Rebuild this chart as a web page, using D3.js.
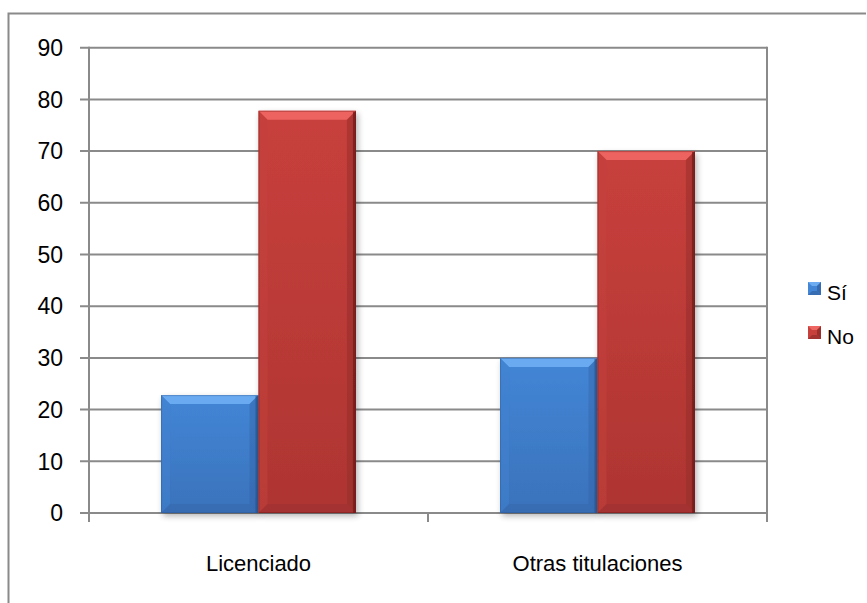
<!DOCTYPE html>
<html>
<head>
<meta charset="utf-8">
<script src="https://cdn.jsdelivr.net/npm/d3@7"></script>
<style>
  html, body { margin: 0; padding: 0; background: #fff; }
  svg { display: block; }
  text { font-family: "Liberation Sans", Arial, sans-serif; fill: #000; }
</style>
</head>
<body>
<svg id="chart" width="867" height="603"></svg>
<script>
// Chart data
const categories = ["Licenciado", "Otras titulaciones"];
const seriesNames = ["Sí", "No"];
const siValues = [22.8, 30];
const noValues = [77.8, 70];
const yTicks = [0, 10, 20, 30, 40, 50, 60, 70, 80, 90];

const seriesValues = [siValues, noValues];

// Palette per series: body gradient, top bevel, side bevels, bottom bevel, edge
const palettes = [
  { body0: "#4386d6", body1: "#3a72bb", top: "#72b0f4", left: "#4281d0", right: "#3364a8", bottom: "#3466aa", edge: "#2a558f" },
  { body0: "#c8403c", body1: "#ae3532", top: "#f26a66", left: "#c4413d", right: "#8e2a27", bottom: "#9a302d", edge: "#6e1a18" }
];

const svg = d3.select("#chart");
const plot = { left: 89, right: 767, top: 47.7, bottom: 513 };

const x0 = d3.scaleBand()
  .domain(categories)
  .range([plot.left, plot.right])
  .paddingInner(0.425)
  .paddingOuter(0.2125);

const x1 = d3.scaleBand()
  .domain(seriesNames)
  .range([0, x0.bandwidth()]);

const y = d3.scaleLinear().domain([0, 90]).range([plot.bottom, plot.top]);

// Outer chart frame (top and left edges visible)
svg.append("path")
  .attr("d", `M8.5,603 L8.5,13.5 L866,13.5`)
  .attr("fill", "none")
  .attr("stroke", "#8a8a8a")
  .attr("stroke-width", 2);

const defs = svg.append("defs");
const shadow = defs.append("filter").attr("id", "shadow")
  .attr("x", "-20%").attr("y", "-10%").attr("width", "140%").attr("height", "130%");
shadow.append("feGaussianBlur").attr("in", "SourceAlpha").attr("stdDeviation", 3).attr("result", "b");
shadow.append("feOffset").attr("in", "b").attr("dx", 2).attr("dy", 3).attr("result", "o");
shadow.append("feComponentTransfer").attr("in", "o").attr("result", "s")
  .append("feFuncA").attr("type", "linear").attr("slope", 0.3);
const merge = shadow.append("feMerge");
merge.append("feMergeNode").attr("in", "s");
merge.append("feMergeNode").attr("in", "SourceGraphic");

palettes.forEach((p, i) => {
  const g = defs.append("linearGradient").attr("id", "body" + i)
    .attr("x1", 0).attr("y1", 0).attr("x2", 0).attr("y2", 1);
  g.append("stop").attr("offset", 0).attr("stop-color", p.body0);
  g.append("stop").attr("offset", 1).attr("stop-color", p.body1);
});

// Gridlines
svg.append("g")
  .selectAll("line")
  .data(yTicks)
  .join("line")
  .attr("x1", plot.left - 9)
  .attr("x2", plot.right)
  .attr("y1", d => y(d))
  .attr("y2", d => y(d))
  .attr("stroke", "#8a8a8a")
  .attr("stroke-width", 2);

// Plot edges
svg.append("line")
  .attr("x1", plot.left).attr("x2", plot.left)
  .attr("y1", plot.top - 1).attr("y2", plot.bottom + 9)
  .attr("stroke", "#8a8a8a").attr("stroke-width", 2);
svg.append("line")
  .attr("x1", plot.right).attr("x2", plot.right)
  .attr("y1", plot.top - 1).attr("y2", plot.bottom + 9)
  .attr("stroke", "#8a8a8a").attr("stroke-width", 2);

// Category separators below the baseline
svg.append("g")
  .selectAll("line")
  .data(categories.slice(1))
  .join("line")
  .attr("x1", d => x0(d) - x0.step() * x0.paddingInner() / 2)
  .attr("x2", d => x0(d) - x0.step() * x0.paddingInner() / 2)
  .attr("y1", plot.bottom)
  .attr("y2", plot.bottom + 9)
  .attr("stroke", "#8a8a8a").attr("stroke-width", 2);

// Y tick labels
svg.append("g")
  .selectAll("text")
  .data(yTicks)
  .join("text")
  .attr("x", 63)
  .attr("y", d => y(d))
  .attr("dy", "0.36em")
  .attr("text-anchor", "end")
  .style("font-size", "23px")
  .text(d => d);

// Bars with bevelled faces
const bev = 9;
const groups = svg.append("g")
  .selectAll("g")
  .data(categories)
  .join("g")
  .attr("transform", d => `translate(${x0(d)},0)`);

groups.each(function (cat, ci) {
  const gg = d3.select(this);
  seriesNames.forEach((s, si) => {
    const v = seriesValues[si][ci];
    const p = palettes[si];
    const x = x1(s), w = x1.bandwidth();
    const top = y(v), bot = y(0);
    const bar = gg.append("g").attr("filter", "url(#shadow)");
    bar.append("rect")
      .attr("x", x).attr("y", top).attr("width", w).attr("height", bot - top)
      .attr("fill", `url(#body${si})`);
    const b = Math.min(bev, (bot - top) / 2);
    const poly = (pts, fill, op) => bar.append("polygon")
      .attr("points", pts.map(q => q.join(",")).join(" "))
      .attr("fill", fill).attr("opacity", op);
    poly([[x, top], [x + w, top], [x + w - b, top + b], [x + b, top + b]], p.top, 0.85);
    poly([[x, top], [x + b, top + b], [x + b, bot - b], [x, bot]], p.left, 0.5);
    poly([[x + w, top], [x + w, bot], [x + w - b, bot - b], [x + w - b, top + b]], p.right, 0.45);
    poly([[x, bot], [x + b, bot - b], [x + w - b, bot - b], [x + w, bot]], p.bottom, 0.5);
    bar.append("line")
      .attr("x1", x + w - 1.5).attr("x2", x + w - 1.5).attr("y1", top + 1).attr("y2", bot)
      .attr("stroke", p.edge).attr("stroke-width", 3).attr("stroke-opacity", 0.7);
    bar.append("rect")
      .attr("x", x + 0.5).attr("y", top + 0.5).attr("width", w - 1).attr("height", bot - top - 1)
      .attr("fill", "none").attr("stroke", p.edge).attr("stroke-opacity", 0.4);
  });
});

// Category labels
svg.append("g")
  .selectAll("text")
  .data(categories)
  .join("text")
  .attr("x", d => x0(d) + x0.bandwidth() / 2)
  .attr("y", 571)
  .attr("text-anchor", "middle")
  .style("font-size", "22px")
  .text(d => d);

// Legend
const legend = svg.append("g");
seriesNames.forEach((s, i) => {
  const p = palettes[i];
  const ly = 282 + i * 44;
  const lg = legend.append("g");
  lg.append("rect").attr("x", 808).attr("y", ly).attr("width", 13).attr("height", 13)
    .attr("fill", p.body0);
  lg.append("polygon")
    .attr("points", `808,${ly} 821,${ly} 817,${ly + 4} 812,${ly + 4}`)
    .attr("fill", p.top).attr("opacity", 0.9);
  lg.append("polygon")
    .attr("points", `821,${ly} 821,${ly + 13} 817,${ly + 9} 817,${ly + 4}`)
    .attr("fill", p.right).attr("opacity", 0.8);
  lg.append("polygon")
    .attr("points", `808,${ly + 13} 821,${ly + 13} 817,${ly + 9} 812,${ly + 9}`)
    .attr("fill", p.bottom).attr("opacity", 0.8);
  lg.append("text").attr("x", 827).attr("y", ly + 18)
    .style("font-size", "21px").text(s);
});
</script>
</body>
</html>
